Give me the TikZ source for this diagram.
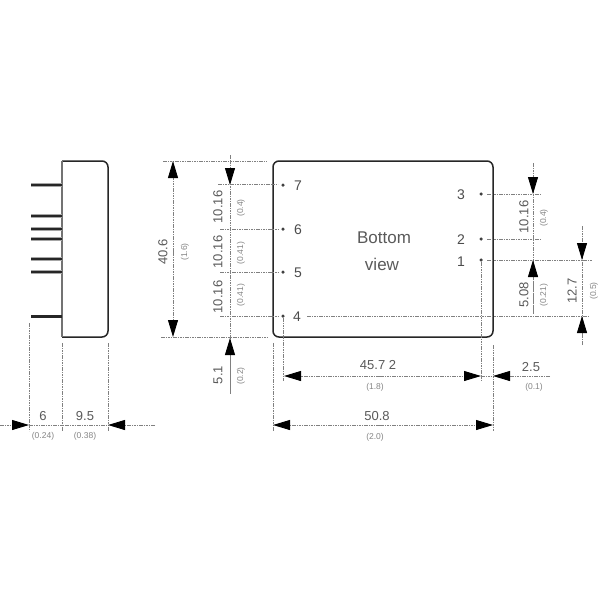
\documentclass[tikz,border=0pt]{standalone}
\usepackage{fontspec}
\setmainfont{Liberation Sans}
\usetikzlibrary{arrows.meta}
\definecolor{ink}{HTML}{262626}
\definecolor{dimc}{HTML}{808080}
\definecolor{txt}{HTML}{5A5A5A}
\definecolor{txtl}{HTML}{858585}
\tikzset{
  x=1pt,y=-1pt,
  body/.style={draw=ink,line width=1.5pt,rounded corners=6pt},
  pin/.style={draw=ink,line width=1.5pt},
  pinhalo/.style={draw=black!35,line width=4pt},
  dim/.style={draw=dimc,line width=0.9pt,dash pattern=on 1.6pt off 0.8pt},
  tip/.style={dim,-{Triangle[length=17pt,width=10pt,color=black]}},
  val/.style={text=txt,font=\fontsize{13}{13}\selectfont,inner sep=0pt},
  sub/.style={text=txtl,font=\fontsize{8.5}{9}\selectfont,inner sep=0pt},
  vval/.style={val,rotate=90},
  vsub/.style={sub,rotate=90},
  pinlab/.style={text=black!70,font=\fontsize{14}{14}\selectfont,inner sep=0pt},
  bigtxt/.style={text=txt,font=\fontsize{17}{17}\selectfont,inner sep=0pt},
  dot/.style={circle,fill=black!75,inner sep=0pt,minimum size=3.5pt}
}
\begin{document}
\begin{tikzpicture}
\useasboundingbox[fill=white] (0,0) rectangle (600,600);
% side view
\draw[body] (62,161) -- (108,161) -- (108,337) -- (62,337);
\draw[black!55,line width=2pt] (62,161) -- (62,337);
\foreach \y in {185,216,229,239,259,272}{\draw[pinhalo] (31,\y) -- (62,\y); \draw[pin] (31,\y) -- (62,\y);}
\draw[ink,line width=3pt] (31,316) -- (62,316);
\draw[dim] (29,323) -- (29,431);
\draw[dim] (62,343) -- (62,431);
\draw[dim] (108,343) -- (108,431);
\draw[dim] (29,425) -- (108,425);
\draw[tip] (0,425) -- (29,425);
\draw[tip] (155,425) -- (108,425);
\node[val] (s6) at (43,416) {6};
\node[val] (s95) at (85,416) {9.5};
\node[sub] (s024) at (43,436) {(0.24)};
\node[sub] (s038) at (85,436) {(0.38)};
% main body
\draw[body] (273,161) rectangle (493,337);
\foreach \n/\x/\y in {p7/283/185,p6/283/229,p5/283/272,p4/283/316,p3/481/194,p2/481/239,p1/481/260}{\node[dot] (\n) at (\x,\y) {};}
\node[pinlab] (l7) at (298,186) {7};
\node[pinlab] (l6) at (298,230) {6};
\node[pinlab] (l5) at (298,273) {5};
\node[pinlab] (l4) at (297,317) {4};
\node[pinlab] (l3) at (461,195) {3};
\node[pinlab] (l2) at (461,240) {2};
\node[pinlab] (l1) at (461,262) {1};
\node[bigtxt] (bt) at (384,238) {Bottom};
\node[bigtxt] (vw) at (382,264) {view};
% 40.6
\draw[dim] (163,161) -- (267,161);
\draw[dim] (161,337) -- (267,337);
\draw[tip] (173,252) -- (173,161);
\draw[tip] (173,252) -- (173,337);
\node[vval] (d406) at (163,252) {40.6};
\node[vsub] (d16) at (185,252) {(1.6)};
% left pin column
\draw[dim] (230,155) -- (230,393);
\draw[tip] (230,155) -- (230,185);
\draw[tip] (230,393) -- (230,338);
\draw[dim] (218,184) -- (278,184);
\draw[dim] (220,229) -- (278,229);
\draw[dim] (220,272) -- (278,272);
\draw[dim] (220,316) -- (278,316);
\node[vval] (a1) at (218,207) {10.16};
\node[vsub] (a2) at (241,208) {(0.4)};
\node[vval] (b1) at (218,252) {10.16};
\node[vsub] (b2) at (241,253) {(0.41)};
\node[vval] (c1) at (218,297) {10.16};
\node[vsub] (c2) at (241,295) {(0.41)};
\node[vval] (e1) at (218,375) {5.1};
\node[vsub] (e2) at (241,376) {(0.2)};
% bottom dims
\draw[dim] (273,343) -- (273,431);
\draw[dim] (283,318) -- (283,381);
\draw[dim] (481,262) -- (481,381);
\draw[dim] (493,345) -- (493,431);
\draw[tip] (380,376) -- (284,376);
\draw[tip] (380,376) -- (481,376);
\draw[dim] (481,376) -- (493,376);
\draw[tip] (550,376) -- (493,376);
\node[val] (f1) at (378,365) {45.7 2};
\node[sub] (f2) at (375,387) {(1.8)};
\node[val] (g1) at (531,367) {2.5};
\node[sub] (g2) at (534,387) {(0.1)};
\draw[tip] (380,425) -- (273,425);
\draw[tip] (380,425) -- (493,425);
\node[val] (h1) at (377,416) {50.8};
\node[sub] (h2) at (375,437) {(2.0)};
% right dims
\draw[dim] (487,194) -- (540,194);
\draw[dim] (487,239) -- (541,239);
\draw[dim] (487,260) -- (592,260);
\draw[dim] (307,316) -- (590,316);
\draw[dim] (533,163) -- (533,314);
\draw[tip] (533,163) -- (533,194);
\draw[tip] (533,314) -- (533,260);
\node[vval] (i1) at (524,217) {10.16};
\node[vsub] (i2) at (544,218) {(0.4)};
\node[vval] (j1) at (524,295) {5.08};
\node[vsub] (j2) at (544,295) {(0.21)};
\draw[dim] (582,226) -- (582,345);
\draw[tip] (582,226) -- (582,260);
\draw[tip] (582,345) -- (582,316);
\node[vval] (k1) at (572,291) {12.7};
\node[vsub] (k2) at (594,291) {(0.5)};
\end{tikzpicture}
\end{document}
